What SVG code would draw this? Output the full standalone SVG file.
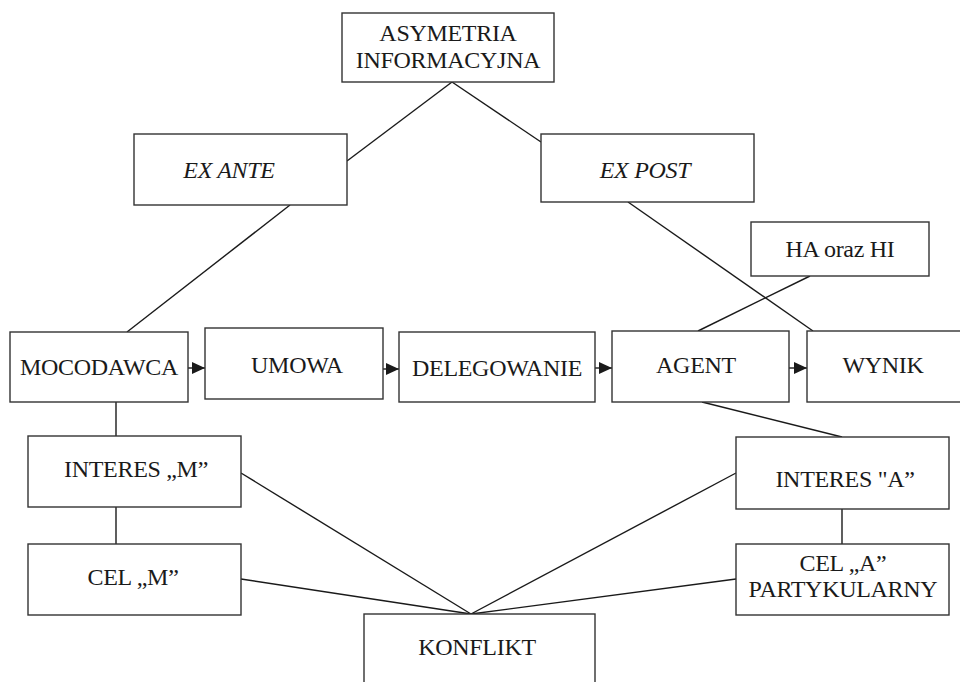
<svg xmlns="http://www.w3.org/2000/svg" width="960" height="682" viewBox="0 0 960 682">
<defs>
<marker id="arr" markerWidth="13" markerHeight="12" refX="13" refY="6" orient="auto" markerUnits="userSpaceOnUse">
<path d="M0,0 L13,6 L0,12 Z" fill="#1a1a1a"/>
</marker>
<style>
rect{fill:#fff;stroke:#333;stroke-width:1.4}
text{font-family:"Liberation Serif","Times New Roman",serif;font-size:24px;letter-spacing:-0.3px;fill:#1a1a1a;text-anchor:middle}
.it{font-style:italic}
#connectors line{stroke:#1a1a1a;stroke-width:1.4}
</style>
</defs>
<rect x="0" y="0" width="960" height="682" style="fill:#fff;stroke:none"/>
<g id="connectors">
<line x1="452" y1="82" x2="347" y2="161"/>
<line x1="452" y1="82" x2="541" y2="142"/>
<line x1="290" y1="205" x2="127" y2="332"/>
<line x1="628" y1="202" x2="813" y2="331"/>
<line x1="810" y1="276" x2="698" y2="331"/>
<line x1="188" y1="368" x2="205" y2="368" marker-end="url(#arr)"/>
<line x1="383" y1="369" x2="399" y2="369" marker-end="url(#arr)"/>
<line x1="595" y1="368" x2="612" y2="368" marker-end="url(#arr)"/>
<line x1="789" y1="368" x2="807" y2="368" marker-end="url(#arr)"/>
<line x1="116" y1="402" x2="116" y2="436"/>
<line x1="116" y1="507" x2="116" y2="544"/>
<line x1="702" y1="402" x2="842" y2="437"/>
<line x1="842" y1="509" x2="842" y2="544"/>
<line x1="241" y1="473" x2="471" y2="614"/>
<line x1="241" y1="579" x2="471" y2="614"/>
<line x1="736" y1="473" x2="471" y2="614"/>
<line x1="736" y1="579" x2="471" y2="614"/>
</g>
<g id="asymetria"><rect x="342" y="13" width="212" height="69"/><text x="448" y="41">ASYMETRIA</text><text x="448" y="68">INFORMACYJNA</text></g>
<g id="exante"><rect x="134" y="134" width="213" height="71"/><text class="it" x="229" y="178">EX ANTE</text></g>
<g id="expost"><rect x="541" y="134" width="213" height="68"/><text class="it" x="645" y="178">EX POST</text></g>
<g id="haorazhi"><rect x="751" y="222" width="178" height="54"/><text x="840" y="257">HA oraz HI</text></g>
<g id="mocodawca"><rect x="10" y="332" width="178" height="70"/><text x="99" y="375">MOCODAWCA</text></g>
<g id="umowa"><rect x="205" y="328" width="178" height="71"/><text x="297" y="373">UMOWA</text></g>
<g id="delegowanie"><rect x="399" y="332" width="196" height="70"/><text x="497" y="376">DELEGOWANIE</text></g>
<g id="agent"><rect x="612" y="331" width="177" height="71"/><text x="696" y="373">AGENT</text></g>
<g id="wynik"><rect x="807" y="331" width="160" height="71"/><text x="883" y="373">WYNIK</text></g>
<g id="interesm"><rect x="28" y="436" width="213" height="71"/><text x="136" y="477">INTERES „M”</text></g>
<g id="celm"><rect x="28" y="544" width="213" height="71"/><text x="133" y="585">CEL „M”</text></g>
<g id="interesa"><rect x="736" y="437" width="213" height="72"/><text x="845" y="487">INTERES "A”</text></g>
<g id="cela"><rect x="736" y="544" width="213" height="71"/><text x="843" y="571">CEL „A”</text><text x="843" y="597">PARTYKULARNY</text></g>
<g id="konflikt"><rect x="364" y="614" width="231" height="80"/><text x="477" y="655">KONFLIKT</text></g>
</svg>
